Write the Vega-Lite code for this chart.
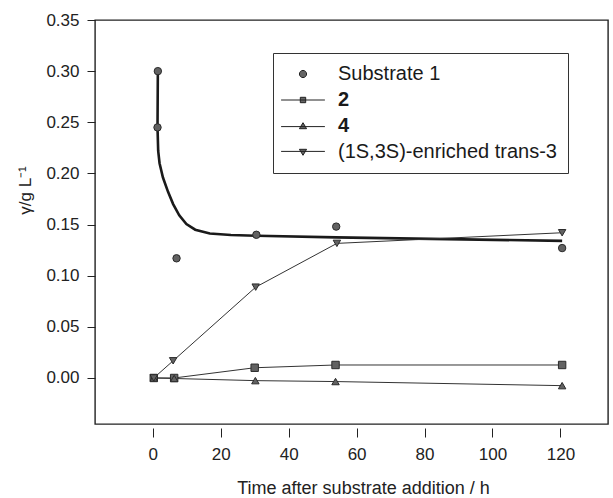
{
  "$schema": "https://vega.github.io/schema/vega-lite/v6.json",
  "autosize": "none",
  "width": 513,
  "height": 404,
  "padding": {"left": 95, "top": 20, "right": 5, "bottom": 74},
  "background": "white",
  "config": {
    "view": {"stroke": "#222", "strokeWidth": 1.4},
    "font": "Liberation Sans",
    "axis": {"grid": false, "labelColor": "#222", "titleColor": "#222", "tickColor": "#222", "labelFont": "Liberation Sans", "titleFont": "Liberation Sans", "titleFontWeight": "normal"}
  },
  "datasets": {
    "measured": [
      {"series": "Substrate 1", "t": 1.5, "c": 0.300},
      {"series": "Substrate 1", "t": 1.4, "c": 0.245},
      {"series": "Substrate 1", "t": 7.0, "c": 0.117},
      {"series": "Substrate 1", "t": 30.5, "c": 0.140},
      {"series": "Substrate 1", "t": 54.0, "c": 0.148},
      {"series": "Substrate 1", "t": 120.5, "c": 0.127},
      {"series": "2", "t": 0.3, "c": 0.0},
      {"series": "2", "t": 6.3, "c": 0.0},
      {"series": "2", "t": 30.0, "c": 0.010},
      {"series": "2", "t": 53.8, "c": 0.0127},
      {"series": "2", "t": 120.5, "c": 0.0127},
      {"series": "4", "t": 0.3, "c": 0.0},
      {"series": "4", "t": 6.3, "c": -0.0005},
      {"series": "4", "t": 30.2, "c": -0.0026},
      {"series": "4", "t": 53.8, "c": -0.0035},
      {"series": "4", "t": 120.5, "c": -0.0075},
      {"series": "(1S,3S)-enriched trans-3", "t": 0.3, "c": 0.0},
      {"series": "(1S,3S)-enriched trans-3", "t": 6.0, "c": 0.0168},
      {"series": "(1S,3S)-enriched trans-3", "t": 30.3, "c": 0.0888},
      {"series": "(1S,3S)-enriched trans-3", "t": 54.2, "c": 0.1316},
      {"series": "(1S,3S)-enriched trans-3", "t": 120.5, "c": 0.142}
    ],
    "fit": [
      {"i": 0, "t": 1.5, "c": 0.300},
      {"i": 1, "t": 1.4, "c": 0.245},
      {"i": 2, "t": 1.6, "c": 0.222},
      {"i": 3, "t": 2.0, "c": 0.210},
      {"i": 4, "t": 3.0, "c": 0.196},
      {"i": 5, "t": 4.5, "c": 0.182},
      {"i": 6, "t": 6.0, "c": 0.170},
      {"i": 7, "t": 7.8, "c": 0.159},
      {"i": 8, "t": 9.9, "c": 0.1505},
      {"i": 9, "t": 12.5, "c": 0.145},
      {"i": 10, "t": 16.8, "c": 0.1413},
      {"i": 11, "t": 23.0, "c": 0.1398},
      {"i": 12, "t": 30.6, "c": 0.139},
      {"i": 13, "t": 54.0, "c": 0.1375},
      {"i": 14, "t": 120.5, "c": 0.134}
    ]
  },
  "layer": [
    {
      "data": {"name": "fit"},
      "mark": {"type": "line", "color": "#1a1a1a", "strokeWidth": 2.6, "clip": true},
      "encoding": {
        "x": {"field": "t", "type": "quantitative", "scale": {"domain": [-17, 134], "nice": false, "zero": false},
          "axis": {"values": [0, 20, 40, 60, 80, 100, 120], "domain": false, "offset": 4, "tickSize": 9, "labelPadding": 9, "labelFontSize": 17,
            "title": "Time after substrate addition / h", "titleFontSize": 18, "titleX": 268, "titleY": 60, "titleBaseline": "middle"}},
        "y": {"field": "c", "type": "quantitative", "scale": {"domain": [-0.045, 0.35], "nice": false, "zero": false},
          "axis": {"values": [0, 0.05, 0.1, 0.15, 0.2, 0.25, 0.3, 0.35], "format": ".2f", "domain": false, "tickSize": 8, "labelPadding": 8, "labelFontSize": 17,
            "title": "γ/g L⁻¹", "titleFontSize": 17, "titleX": -70, "titleY": 170, "titleAngle": -90, "titleBaseline": "middle"}},
        "order": {"field": "i", "type": "quantitative"}
      }
    },
    {
      "data": {"name": "measured"},
      "transform": [{"filter": "datum.series != 'Substrate 1'"}],
      "mark": {"type": "line", "color": "#333", "strokeWidth": 1},
      "encoding": {
        "x": {"field": "t", "type": "quantitative"},
        "y": {"field": "c", "type": "quantitative"},
        "detail": {"field": "series"}
      }
    },
    {
      "data": {"name": "measured"},
      "mark": {"type": "point", "filled": true, "fill": "#626262", "stroke": "#2a2a2a", "strokeWidth": 1, "opacity": 1, "size": 55},
      "encoding": {
        "x": {"field": "t", "type": "quantitative"},
        "y": {"field": "c", "type": "quantitative"},
        "shape": {"field": "series", "type": "nominal",
          "scale": {"domain": ["Substrate 1", "2", "4", "(1S,3S)-enriched trans-3"], "range": ["circle", "square", "triangle-up", "triangle-down"]},
          "legend": null}
      }
    },
    {
      "data": {"name": "measured"},
      "mark": {"type": "point", "filled": true, "fill": "#666", "stroke": "#222", "strokeWidth": 1, "opacity": 0, "size": 36},
      "encoding": {
        "x": {"field": "t", "type": "quantitative"},
        "y": {"field": "c", "type": "quantitative"},
        "shape": {"field": "series", "type": "nominal",
          "scale": {"domain": ["Substrate 1", "2", "4", "(1S,3S)-enriched trans-3"],
            "range": [
              "M-1.2,0A1.2,1.2,0,1,1,1.2,0A1.2,1.2,0,1,1,-1.2,0Z",
              "M-7.3,0H7.3M-0.9,-0.9H0.9V0.9H-0.9Z",
              "M-7.3,0.2H7.3M0,-1.1L1.2,0.9H-1.2Z",
              "M-7.3,-0.2H7.3M0,1.1L1.2,-0.9H-1.2Z"
            ]},
          "legend": {
            "title": null, "orient": "none", "legendX": 178, "legendY": 33,
            "strokeColor": "#333", "padding": 11, "rowPadding": 6,
            "symbolSize": 36, "symbolOffset": 9, "labelOffset": 25,
            "symbolOpacity": 1, "symbolFillColor": "#666", "symbolStrokeColor": "#222", "symbolStrokeWidth": 1,
            "labelFont": "Liberation Sans", "labelFontSize": 20, "labelColor": "#1a1a1a", "labelLimit": 400,
            "encoding": {
              "symbols": {"opacity": {"value": 1}, "fill": {"value": "#666"}, "stroke": {"value": "#222"}, "strokeWidth": {"value": 1}},
              "labels": {"fontWeight": {"condition": {"test": "datum.label === '2' || datum.label === '4'", "value": "bold"}, "value": "normal"}}
            }
          }}
      }
    }
  ],
  "resolve": {"scale": {"shape": "independent"}, "legend": {"shape": "independent"}}
}
